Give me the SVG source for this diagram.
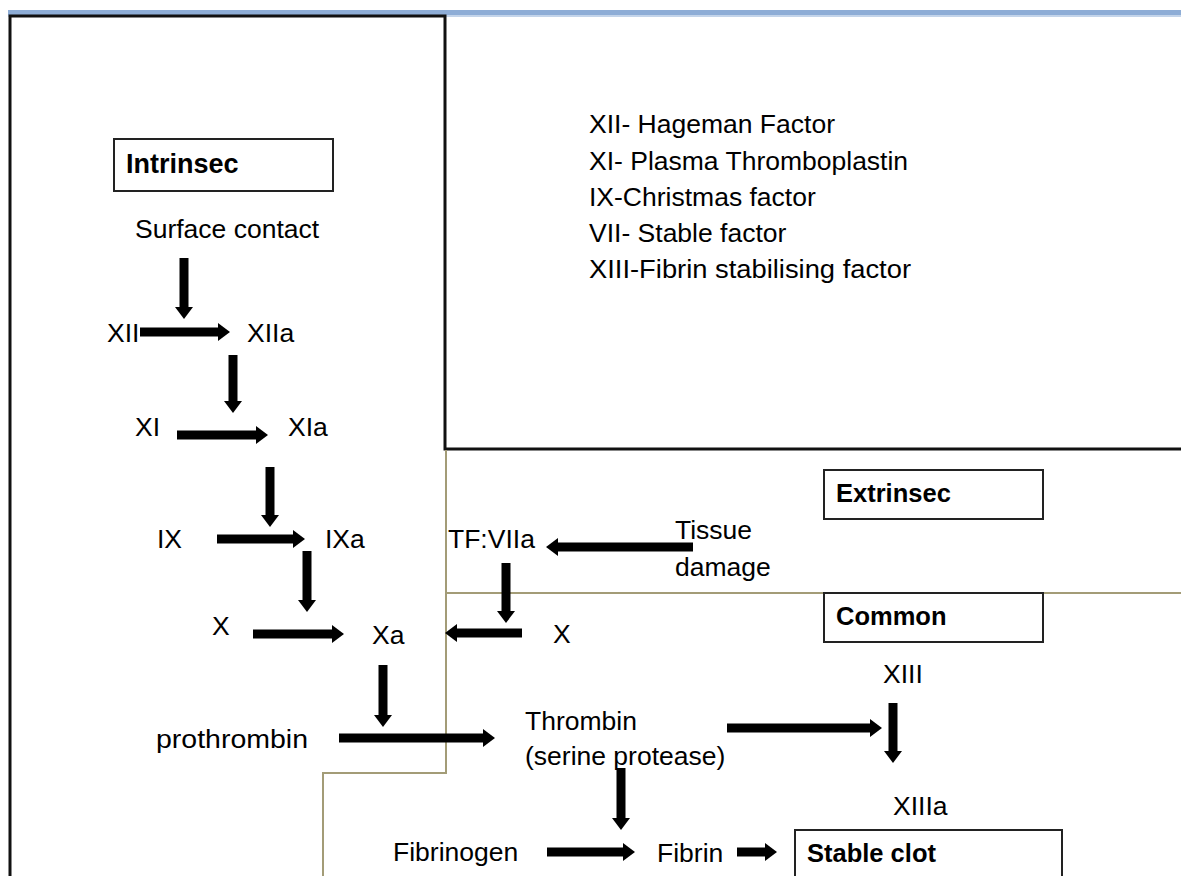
<svg xmlns="http://www.w3.org/2000/svg" width="1181" height="876" viewBox="0 0 1181 876">
<defs>
<style>
text{font-family:"Liberation Sans",Arial,sans-serif;font-size:26.5px;fill:#000}
.b{font-weight:bold;font-size:25.5px}
.box{fill:#fff;stroke:#222;stroke-width:2}
.arr{stroke:#000;stroke-width:9;fill:none;marker-end:url(#ah)}
.ol{stroke:#a39c77;stroke-width:2;fill:none}
.bk{stroke:#111;stroke-width:3;fill:none}
</style>
<marker id="ah" markerUnits="userSpaceOnUse" markerWidth="12" markerHeight="18" viewBox="0 0 12 18" refX="1" refY="9" orient="auto">
<path d="M0,0 L12,9 L0,18 Z" fill="#000"/>
</marker>
</defs>
<rect width="1181" height="876" fill="#fff"/>
<g id="frame">
<rect x="8" y="10" width="1173" height="5" fill="#8eadd6"/>
<rect x="8" y="15" width="1173" height="2" fill="#c3d4ea"/>
<path class="bk" d="M10,876 L10,16 L445,16 L445,449 L1181,449"/>
<path class="ol" d="M446,450 L446,773 L323,773 L323,876"/>
<path class="ol" d="M446,593 L1181,593"/>
</g>
<g id="legend">
<text x="589" y="133">XII- Hageman Factor</text>
<text x="589" y="170">XI- Plasma Thromboplastin</text>
<text x="589" y="206">IX-Christmas factor</text>
<text x="589" y="242">VII- Stable factor</text>
<text x="589" y="278" textLength="322" lengthAdjust="spacingAndGlyphs">XIII-Fibrin stabilising factor</text>
</g>
<g id="intrinsec"><rect class="box" x="114" y="139" width="219" height="52"/><text class="b" x="126" y="173" style="font-size:27px">Intrinsec</text></g>
<g id="extrinsec"><rect class="box" x="824" y="470" width="219" height="49"/><text class="b" x="836" y="502">Extrinsec</text></g>
<g id="common"><rect class="box" x="824" y="593" width="219" height="49"/><text class="b" x="836" y="625">Common</text></g>
<g id="stable-clot"><rect class="box" x="795" y="830" width="267" height="60"/><text class="b" x="807" y="862">Stable clot</text></g>
<g id="surface-contact"><text x="135" y="238">Surface contact</text></g>
<g id="xii"><text x="107" y="342">XII</text></g>
<g id="xiia"><text x="247" y="342">XIIa</text></g>
<g id="xi"><text x="135" y="436">XI</text></g>
<g id="xia"><text x="288" y="436">XIa</text></g>
<g id="ix"><text x="157" y="548">IX</text></g>
<g id="ixa"><text x="325" y="548">IXa</text></g>
<g id="x-intr"><text x="212" y="635">X</text></g>
<g id="xa"><text x="372" y="644">Xa</text></g>
<g id="tf-viia"><text x="448" y="548">TF:VIIa</text></g>
<g id="tissue-damage"><text x="675" y="539">Tissue</text><text x="675" y="576">damage</text></g>
<g id="x-extr"><text x="553" y="643">X</text></g>
<g id="prothrombin"><text x="156" y="748" textLength="152" lengthAdjust="spacingAndGlyphs">prothrombin</text></g>
<g id="thrombin"><text x="525" y="730">Thrombin</text><text x="525" y="765">(serine protease)</text></g>
<g id="xiii"><text x="883" y="683">XIII</text></g>
<g id="xiiia"><text x="893" y="815">XIIIa</text></g>
<g id="fibrinogen"><text x="393" y="861">Fibrinogen</text></g>
<g id="fibrin"><text x="657" y="862">Fibrin</text></g>
<g id="connectors">
<line class="arr" x1="184" y1="258" x2="184" y2="308"/>
<line class="arr" x1="140" y1="332" x2="219" y2="332"/>
<line class="arr" x1="233" y1="355" x2="233" y2="402"/>
<line class="arr" x1="177" y1="435" x2="257" y2="435"/>
<line class="arr" x1="270" y1="467" x2="270" y2="516"/>
<line class="arr" x1="217" y1="539" x2="294" y2="539"/>
<line class="arr" x1="307" y1="551" x2="307" y2="601"/>
<line class="arr" x1="253" y1="634" x2="333" y2="634"/>
<line class="arr" x1="693" y1="547" x2="557" y2="547"/>
<line class="arr" x1="506" y1="563" x2="506" y2="612"/>
<line class="arr" x1="522" y1="633" x2="456" y2="633"/>
<line class="arr" x1="383" y1="665" x2="383" y2="716"/>
<line class="arr" x1="339" y1="738" x2="484" y2="738"/>
<line class="arr" x1="727" y1="728" x2="871" y2="728"/>
<line class="arr" x1="893" y1="703" x2="893" y2="752"/>
<line class="arr" x1="621" y1="768" x2="621" y2="819"/>
<line class="arr" x1="547" y1="852" x2="624" y2="852"/>
<line class="arr" x1="737" y1="852" x2="766" y2="852"/>
</g>
</svg>
